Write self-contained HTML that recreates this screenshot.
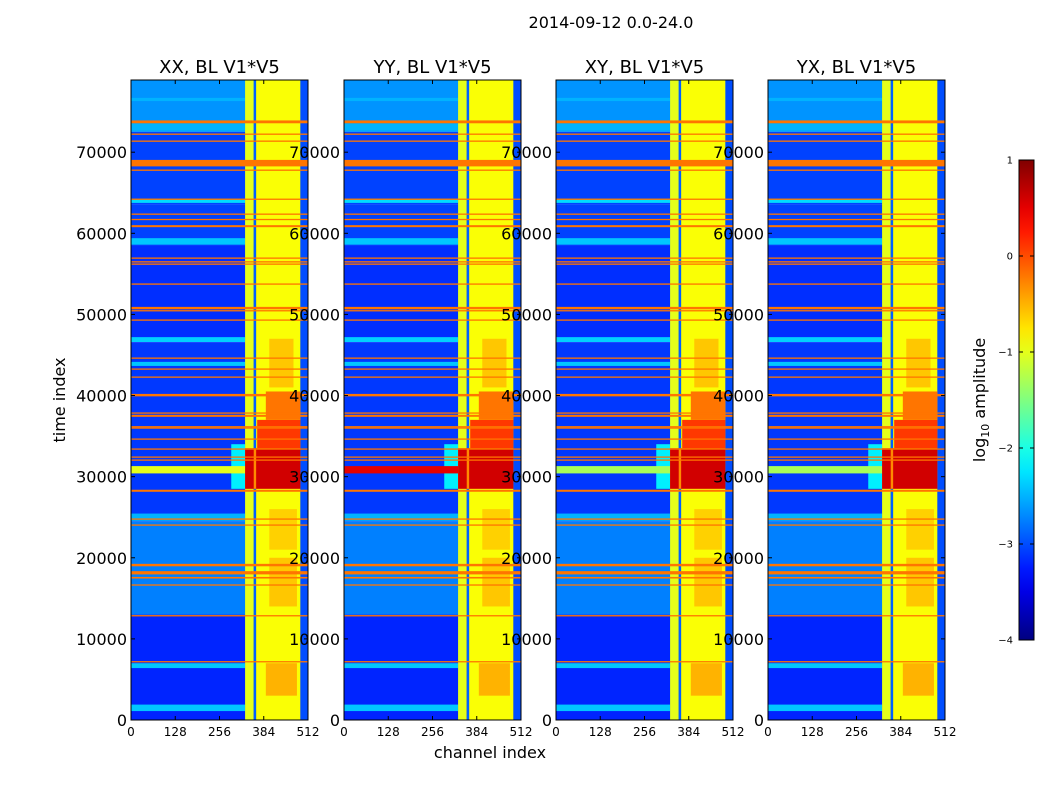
<!DOCTYPE html>
<html><head><meta charset="utf-8">
<style>
body{margin:0;background:#fff;width:1050px;height:800px;overflow:hidden;font-family:"DejaVu Sans","Liberation Sans",sans-serif;}
svg{display:block}
</style></head>
<body>
<svg id="fig" width="1050" height="800" xmlns="http://www.w3.org/2000/svg" font-family="DejaVu Sans, Liberation Sans, sans-serif">
<text x="611" y="28" font-size="16" text-anchor="middle">2014-09-12 0.0-24.0</text>
<text transform="translate(65,400) rotate(-90)" font-size="16" text-anchor="middle">time index</text>
<text x="490" y="758" font-size="16" text-anchor="middle">channel index</text>
<g id="panels"></g>
<g id="cbar"></g>
</svg>
<script>
// ---- data ----
const panelTitles = ["XX, BL V1*V5","YY, BL V1*V5","XY, BL V1*V5","YX, BL V1*V5"];
const yTicks = [0,10000,20000,30000,40000,50000,60000,70000];
const xTicks = [0,128,256,384,512];
const cbTicks = [1,0,-1,-2,-3,-4];
// background time bands on the low-channel side
const bgBandStart = [0, 13000, 24500, 46500, 58500, 63600, 72500];
const bgBandEnd   = [13000, 24500, 46500, 58500, 63600, 72500, 78900];
const bgBandVal   = [-3.2, -2.75, -3.1, -3.15, -3.05, -3.05, -2.65];
// lighter (cyan) horizontal stripes in the left region
const stripeT   = [1500, 6700, 25000, 43900, 46900, 59000, 64000, 73100, 76500];
const stripeW   = [800, 600, 900, 500, 600, 800, 500, 900, 400];
const stripeVal = [-2.4, -2.4, -2.5, -2.4, -2.35, -2.4, -2.3, -2.5, -2.5];
// strong band near t=31000 per panel
const midBandVal = [-1.0, 0.5, -1.3, -1.3];
// channel regions
const chStart = [330, 355, 362, 490];
const chEnd   = [355, 362, 490, 512];
const chVal   = [-1.0, -2.9, -0.9, -3.0];
// bright blobs in the high-channel band
const blobT0 = [28500, 33500, 37000, 41000, 3000, 14000, 21000];
const blobT1 = [33500, 37000, 40500, 47000, 7000, 20000, 26000];
const blobC0 = [330, 365, 390, 400, 390, 400, 400];
const blobC1 = [490, 490, 490, 470, 480, 480, 480];
const blobV  = [0.6, 0.1, -0.2, -0.6, -0.5, -0.6, -0.65];
// RFI flag lines
const flagT = [73740,72220,71360,68650,67780,64200,62360,61700,60880,56940,56480,56200,53740,50780,50450,49300,44610,43260,42270,40050,37840,37500,36150,35990,34630,33400,32410,32040,28260,24770,24030,19100,18150,17540,16640,12850,7180];
const flagW = [350,150,150,800,150,100,150,150,250,150,150,150,150,300,150,150,150,150,150,300,150,250,150,150,150,150,150,150,250,120,120,300,400,200,150,150,150];
const flagVal = -0.2;

// ---- geometry ----
const panelX = [131,344,556,768], PW = 177, PT = 80, PB = 720, TMAX = 78900;
function ys(t){return PB - (t/TMAX)*(PB-PT);}
function jet(v){
  const f = Math.max(0,Math.min(1,(v+4)/5));
  const c = x=>Math.round(255*Math.max(0,Math.min(1,1.5-Math.abs(4*f-x))));
  return `rgb(${c(3)},${c(2)},${c(1)})`;
}
const NS="http://www.w3.org/2000/svg";
function mk(tag,attrs,parent){const e=document.createElementNS(NS,tag);for(const k in attrs)e.setAttribute(k,attrs[k]);parent.appendChild(e);return e;}
const panels=document.getElementById('panels');

panelTitles.forEach((title,p)=>{
  const x0=panelX[p];
  const xs=ch=>x0+ch/512*PW;
  const g=mk('g',{},panels);
  
  
  const hm=mk('g',{},g);
  
  
  for(let i=0;i<bgBandStart.length;i++){
    const r=mk('rect',{x:xs(0),y:ys(bgBandEnd[i]),width:PW,height:ys(bgBandStart[i])-ys(bgBandEnd[i]),fill:jet(bgBandVal[i])},hm);
    
    
  }
  for(let i=0;i<stripeT.length;i++){
    const r=mk('rect',{x:xs(0),y:ys(stripeT[i]+stripeW[i]/2),width:xs(330)-xs(0),height:ys(stripeT[i]-stripeW[i]/2)-ys(stripeT[i]+stripeW[i]/2),fill:jet(stripeVal[i])},hm);
    
    
  }
  {
    const r2=mk('rect',{x:xs(290),y:ys(34000),width:xs(330)-xs(290),height:ys(28500)-ys(34000),fill:jet(-2.2)},hm);
    
    
    const r=mk('rect',{x:xs(0),y:ys(31300),width:xs(330)-xs(0),height:ys(30400)-ys(31300),fill:jet(midBandVal[p])},hm);
    
    
  }
  for(let i=0;i<chStart.length;i++){
    const r=mk('rect',{x:xs(chStart[i]),y:PT,width:xs(chEnd[i])-xs(chStart[i]),height:PB-PT,fill:jet(chVal[i])},hm);
    
    
  }
  for(let i=0;i<blobT0.length;i++){
    const r=mk('rect',{x:xs(blobC0[i]),y:ys(blobT1[i]),width:xs(blobC1[i])-xs(blobC0[i]),height:ys(blobT0[i])-ys(blobT1[i]),fill:jet(blobV[i])},hm);
    
    
  }
  {
    const r=mk('rect',{x:xs(355),y:ys(33500),width:xs(362)-xs(355),height:ys(28500)-ys(33500),fill:jet(-0.3)},hm);
    
    
  }
  for(let i=0;i<flagT.length;i++){
    const h=Math.max(1.3,ys(flagT[i]-flagW[i]/2)-ys(flagT[i]+flagW[i]/2));
    const r=mk('rect',{x:xs(0),y:ys(flagT[i])-h/2,width:PW,height:h,fill:jet(flagVal)},hm);
    
    
  }
  const fr=mk('rect',{x:x0,y:PT,width:PW,height:PB-PT,fill:'none',stroke:'#000','stroke-width':1},g);
  
  
  const tt=mk('text',{x:x0+PW/2,y:73,'font-size':18,'text-anchor':'middle'},g);
  tt.textContent=title;
  
  
  yTicks.forEach(t=>{
    const y=ys(t);
    mk('line',{x1:x0,x2:x0+4,y1:y,y2:y,stroke:'#000'},g);
    mk('line',{x1:x0+PW,x2:x0+PW-4,y1:y,y2:y,stroke:'#000'},g);
    const l=mk('text',{x:x0-4,y:y+6,'font-size':16,'text-anchor':'end'},g);
    l.textContent=t;
    
    
  });
  xTicks.forEach(c=>{
    const x=xs(c);
    mk('line',{x1:x,x2:x,y1:PB,y2:PB-4,stroke:'#000'},g);
    mk('line',{x1:x,x2:x,y1:PT,y2:PT+4,stroke:'#000'},g);
    const l=mk('text',{x:x,y:736,'font-size':12,'text-anchor':'middle'},g);
    l.textContent=c;
    
    
  });
});

// colorbar
const cb=document.getElementById('cbar');
const defs=mk('defs',{},cb);
const grad=mk('linearGradient',{id:'jetg',x1:0,y1:1,x2:0,y2:0},defs);
for(let i=0;i<=20;i++){mk('stop',{offset:i/20,'stop-color':jet(-4+5*i/20)},grad);}
const cbr=mk('rect',{x:1019,y:160,width:15,height:480,fill:'url(#jetg)',stroke:'#000','stroke-width':1},cb);


cbTicks.forEach(v=>{
  const y=160+(1-v)*96;
  mk('line',{x1:1019,x2:1023,y1:y,y2:y,stroke:'#000'},cb);
  mk('line',{x1:1030,x2:1034,y1:y,y2:y,stroke:'#000'},cb);
  const l=mk('text',{x:1013,y:y+3.5,'font-size':10,'text-anchor':'end'},cb);
  l.textContent=v<0?'\u2212'+(-v):String(v);
  
  
});
const cl=mk('text',{transform:'translate(985,400) rotate(-90)','font-size':16,'text-anchor':'middle'},cb);
cl.innerHTML='log<tspan font-size="11" dy="4">10</tspan><tspan dy="-4"> amplitude</tspan>';


</script>
</body></html>
